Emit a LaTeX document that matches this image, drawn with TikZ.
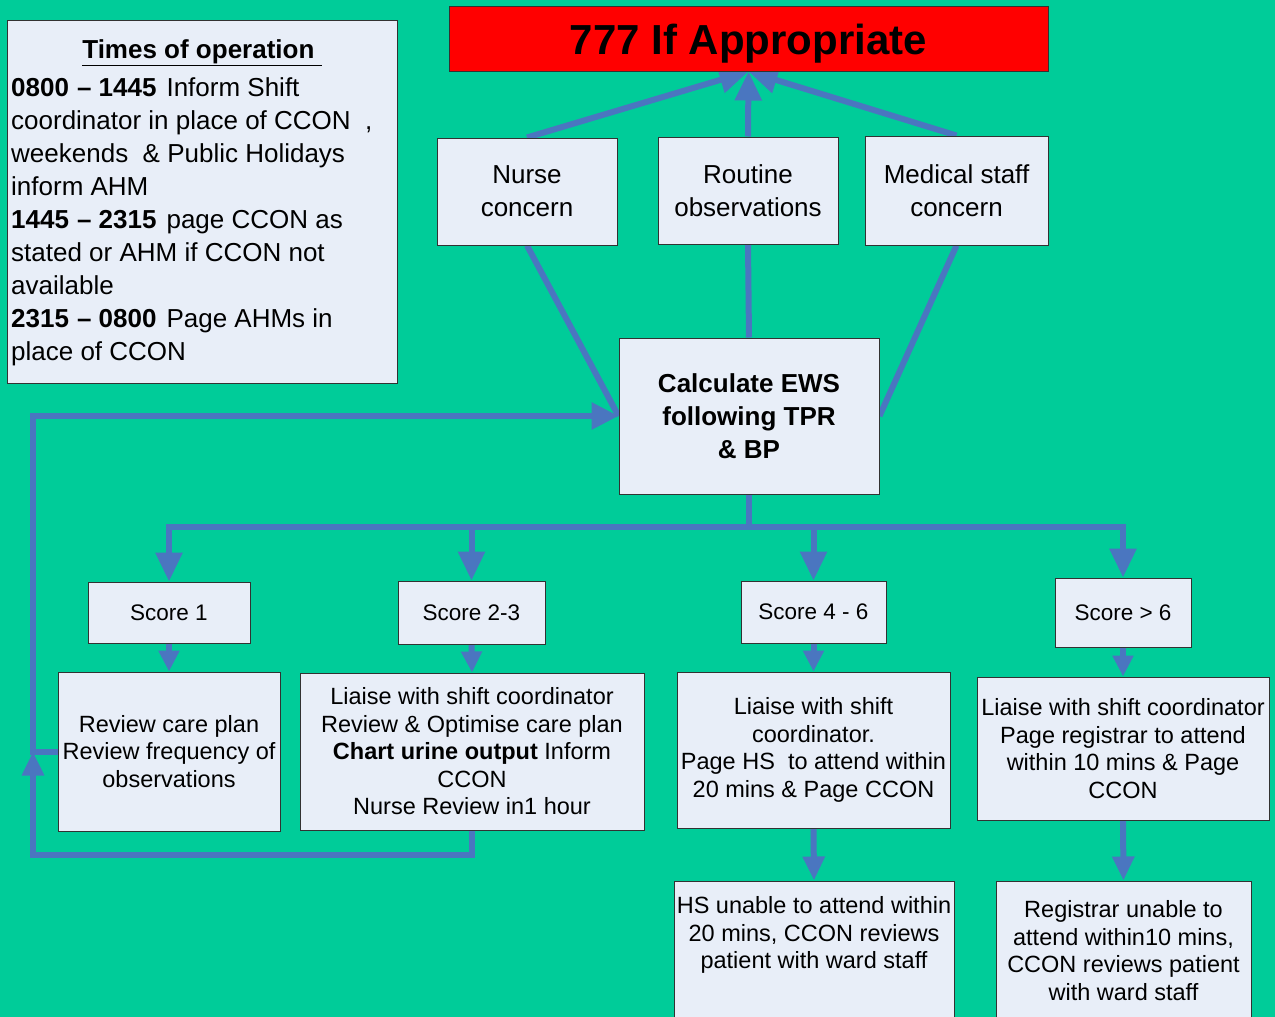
\documentclass[tikz,border=0pt]{standalone}
\usepackage{fontspec}
\setmainfont{Liberation Sans}
\usetikzlibrary{arrows.meta}
\definecolor{bgc}{RGB}{0,204,153}
\definecolor{boxf}{RGB}{232,238,248}
\definecolor{boxd}{RGB}{50,50,50}
\definecolor{arr}{RGB}{74,118,192}
\definecolor{titlered}{RGB}{255,0,0}
\pgfdeclarelayer{bgl}
\pgfdeclarelayer{edges}
\pgfsetlayers{bgl,edges,main}
\begin{document}
\begin{tikzpicture}[x=1pt,y=-1pt,
  box/.style={draw=boxd, line width=1pt, fill=boxf, inner sep=0pt, align=center},
  bigfont/.style={font=\fontsize{26}{33}\selectfont},
  scorefont/.style={font=\fontsize{22.5}{26}\selectfont},
  detfont/.style={font=\fontsize{23.5}{27.5}\selectfont},
  conn/.style={draw=arr, line width=6pt},
  bigtip/.style={conn, -{Triangle[length=29pt,width=26pt]}},
  midtip/.style={conn, -{Triangle[length=24pt,width=21pt]}},
  smalltip/.style={conn, -{Triangle[length=21pt,width=20pt]}}]
\useasboundingbox (0,0) rectangle (1275,1017);
\begin{pgfonlayer}{bgl}
  \fill[bgc] (0,0) rectangle (1275,1017);
\end{pgfonlayer}

% Times of operation box
\node[box, minimum width=390pt, minimum height=363pt] (times) at (202,201.5) {};
\node[font=\fontsize{26}{33}\selectfont\bfseries, inner sep=0pt] (timeshead) at (202,53) {\underline{Times of operation\ }};
\node[font=\fontsize{26}{33}\selectfont, align=left, anchor=north west, inner sep=0pt] (timesbody) at (11,77)
{\textbf{0800\hspace{8pt}– 1445}\hspace{10pt}Inform Shift\\
coordinator in place of CCON \ ,\\
weekends \ \& Public Holidays\\
inform AHM\\
\textbf{1445\hspace{8pt}– 2315}\hspace{10pt}page CCON as\\
stated or AHM if CCON not\\
available\\
\textbf{2315\hspace{8pt}– 0800}\hspace{10pt}Page AHMs in\\
place of CCON};

% title
\node[box, fill=titlered, minimum width=599pt, minimum height=65pt, font=\fontsize{42}{44}\selectfont\bfseries] (title) at (748.5,38.5) {\rule{0pt}{40pt}777 If Appropriate};

% sources
\node[box, bigfont, minimum width=180pt, minimum height=107pt] (nurse) at (527,191.5) {Nurse\\concern};
\node[box, bigfont, minimum width=180pt, minimum height=107pt] (routine) at (748,190.5) {Routine\\observations};
\node[box, bigfont, minimum width=183pt, minimum height=109pt] (medical) at (956.5,190.5) {Medical staff\\concern};

% EWS
\node[box, font=\fontsize{26}{33}\selectfont\bfseries, minimum width=260pt, minimum height=156pt] (ews) at (749,416) {Calculate EWS\\following TPR\\\& BP};

% scores
\node[box, scorefont, minimum width=162pt, minimum height=61pt] (s1) at (169,612.5) {Score 1};
\node[box, scorefont, minimum width=147pt, minimum height=63pt] (s2) at (471.5,612.5) {Score 2-3};
\node[box, scorefont, minimum width=145pt, minimum height=62pt] (s3) at (813.5,612) {Score 4 - 6};
\node[box, scorefont, minimum width=136pt, minimum height=69pt] (s4) at (1123,612.5) {Score > 6};

% details
\node[box, detfont, minimum width=222pt, minimum height=159pt] (review) at (169,751.5) {Review care plan\\Review frequency of\\observations};
\node[box, detfont, minimum width=344pt, minimum height=157pt] (l23) at (472,751.5) {Liaise with shift coordinator\\Review \& Optimise care plan\\\textbf{Chart urine output} Inform\\CCON\\Nurse Review in1 hour};
\node[box, detfont, minimum width=273pt, minimum height=156pt] (l46) at (813.5,750) {Liaise with shift\\coordinator.\\Page HS \ to attend within\\20 mins \& Page CCON};
\node[box, detfont, minimum width=292pt, minimum height=143pt] (l6) at (1123,748.5) {Liaise with shift coordinator\\Page registrar to attend\\within 10 mins \& Page\\CCON};

% bottom
\node[box, detfont, minimum width=280pt, minimum height=139pt] (hs) at (814,950.5) {HS unable to attend within\\20 mins, CCON reviews\\patient with ward staff\\\strut};
\node[box, detfont, minimum width=255pt, minimum height=139pt] (reg) at (1123.5,950.5) {Registrar unable to\\attend within10 mins,\\CCON reviews patient\\with ward staff};

\coordinate (busy) at (0,527);
\coordinate (loopc) at (33,751.5);

\begin{pgfonlayer}{edges}
  \draw[bigtip] (nurse.north) -- (title.south);
  \draw[bigtip] (routine.north) -- (title.south);
  \draw[bigtip] (medical.north) -- (title.south);
  \draw[conn] (nurse.south) -- (ews.west);
  \draw[conn] (routine.south) -- (ews.north);
  \draw[conn] (medical.south) -- (ews.east);
  \draw[conn] (ews.south) -- (ews.south |- busy);
  \draw[conn, line cap=rect] (s1.north |- busy) -- (s4.north |- busy);
  \foreach \s in {s1,s2,s3,s4} {\draw[bigtip] (\s.north |- busy) -- (\s.north);}
  \draw[smalltip] (s1.south) -- (review.north);
  \draw[smalltip] (s2.south) -- (l23.north);
  \draw[smalltip] (s3.south) -- (l46.north);
  \draw[smalltip] (s4.south) -- (l6.north);
  \draw[midtip] (l46.south) -- (hs.north);
  \draw[midtip] (l6.south) -- (reg.north);
  \draw[conn, -{Triangle[length=27pt,width=26pt]}] (review.west) -- (loopc) |- (ews.west);
  \draw[conn, -{Triangle[length=24pt,width=21pt]}] (l23.south) -- ++(0,24) -| (loopc);
\end{pgfonlayer}
\end{tikzpicture}
\end{document}
